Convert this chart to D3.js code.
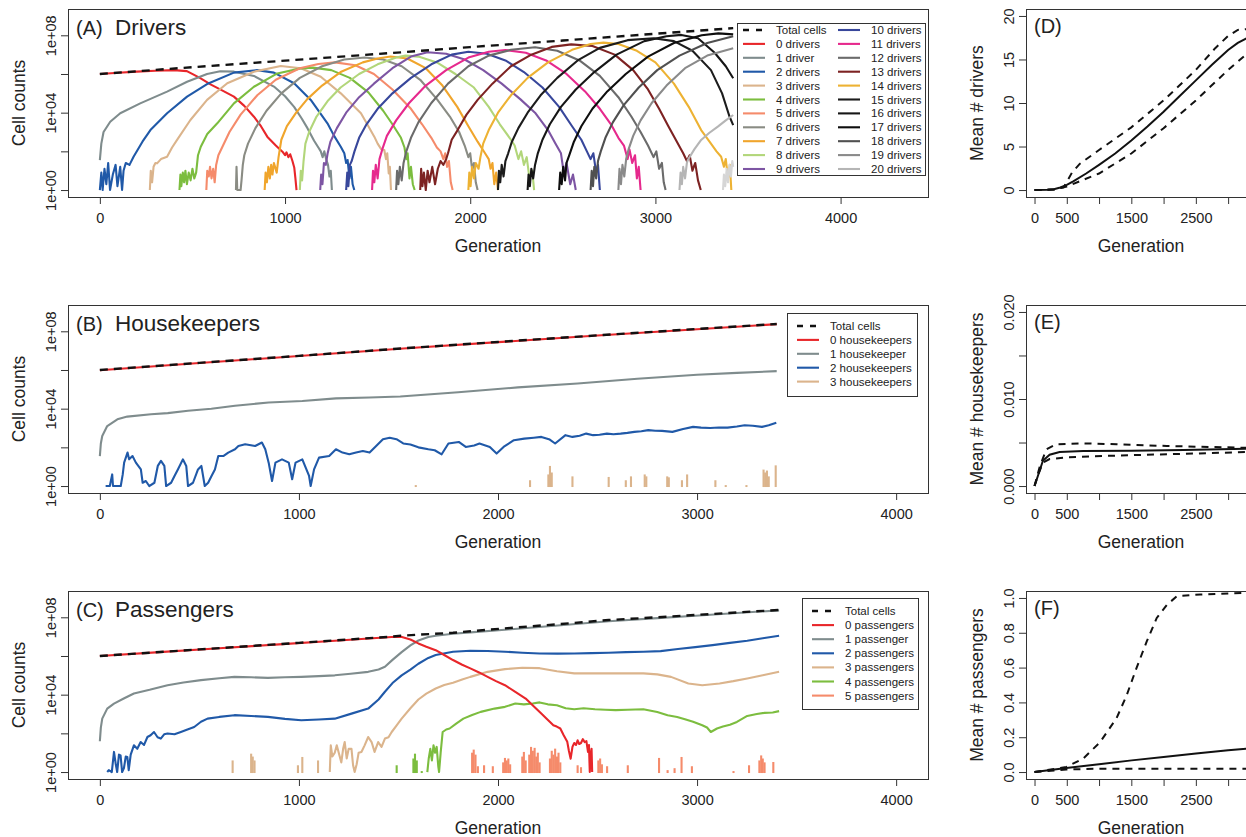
<!DOCTYPE html>
<html>
<head>
<meta charset="utf-8">
<script src="https://cdn.jsdelivr.net/npm/d3@7"></script>
<style>
body { margin: 0; background: #fff; }
svg { display: block; font-family: "Liberation Sans", Arial, Helvetica, sans-serif; }
</style>
</head>
<body>
<div id="chart"></div>
<script>
// ---- Data: [generation, log10(cell count)] ----

// (A) Drivers
var drvTotal = [[0,6.0],[500,6.35],[1000,6.69],[1626,7.12],[2000,7.39],[2500,7.73],[3000,8.08],[3420,8.37]];
var drv0 = [[0,6.0],[100,6.06],[200,6.12],[300,6.17],[400,6.2],[470,6.15],[540,5.8],[600,5.45],[660,5.15],[724,4.83],[780,4.35],[832,3.79],[870,3.3],[904,2.76],[950,2.3],[986,1.98],[1000,1.8],[1008,1.95],[1018,1.7],[1028,1.85],[1040,1.5],[1050,1.15],[1056,0.6],[1062,0]];
var drv1 = [[0,1.55],[8,2.4],[20,3.0],[56,3.53],[110,3.97],[218,4.48],[363,5.09],[471,5.6],[579,6.0],[650,6.14],[724,6.12],[832,5.9],[940,5.35],[1000,4.85],[1049,4.3],[1090,3.7],[1121,3.2],[1157,2.55],[1180,2.2],[1193,2.0],[1203,1.7],[1212,2.0],[1222,1.6],[1232,1.3],[1240,0.7],[1247,1.0],[1253,0]];
var drv2 = [[0,0],[8,0.9],[15,0],[25,1.1],[35,0.3],[45,1.4],[55,0],[70,0.8],[85,1.3],[95,0.2],[110,1.2],[120,0],[128,1.0],[140,1.4],[160,1.3],[182,1.72],[230,2.5],[273,3.1],[363,3.97],[471,4.83],[579,5.48],[724,6.07],[850,6.2],[940,6.07],[1049,5.52],[1139,4.66],[1229,3.45],[1265,2.8],[1301,2.24],[1320,1.9],[1330,1.4],[1338,1.55],[1348,0.6],[1356,1.2],[1365,0.3],[1374,0]];
var drv3 = [[270,0],[275,1.0],[282,0.4],[290,1.2],[300,1.4],[309,1.38],[330,1.6],[363,1.72],[390,2.2],[417,2.59],[489,3.62],[579,4.66],[688,5.52],[832,6.12],[977,6.41],[1085,6.3],[1193,5.86],[1301,5.0],[1410,3.97],[1450,3.3],[1482,2.76],[1500,2.4],[1520,2.1],[1536,2.07],[1545,1.6],[1552,1.9],[1560,0.86],[1566,1.2],[1572,0]];
var drv4 = [[430,0],[435,0.8],[440,0.2],[448,0.9],[455,0.4],[462,1.0],[470,0.3],[480,0.9],[490,0.5],[500,1.1],[510,0.6],[520,0.9],[530,1.8],[545,2.24],[580,2.9],[634,3.45],[724,4.48],[832,5.34],[958,6.03],[1085,6.29],[1150,6.33],[1250,6.2],[1350,5.8],[1450,5.05],[1530,4.1],[1580,3.4],[1626,2.7],[1645,2.2],[1655,1.6],[1662,1.9],[1672,0.6],[1680,1.2],[1690,0.3],[1700,0]];
var drv5 = [[575,0],[580,1.0],[588,0.7],[595,1.2],[603,0.6],[612,1.1],[620,0.4],[628,1.3],[640,1.8],[660,2.2],[700,3.0],[760,3.9],[850,4.9],[950,5.7],[1080,6.3],[1180,6.52],[1270,6.6],[1380,6.45],[1480,6.0],[1580,5.2],[1680,4.2],[1740,3.4],[1790,2.7],[1820,2.2],[1840,2.0],[1855,1.6],[1865,1.9],[1875,1.2],[1885,1.5],[1895,0.4],[1905,0]];
var drv6 = [[735,0],[738,1.2],[742,0],[760,0],[765,0.5],[772,1.3],[780,1.8],[800,2.4],[840,3.2],[900,4.1],[980,5.0],[1080,5.8],[1200,6.4],[1320,6.75],[1430,6.85],[1530,6.75],[1630,6.4],[1730,5.7],[1820,4.7],[1890,3.8],[1940,3.0],[1970,2.3],[1990,1.7],[2000,1.9],[2010,1.1],[2020,1.4],[2030,0.4],[2040,0]];
var drv7 = [[890,0],[895,0.9],[902,0.4],[910,1.2],[918,0.6],[925,1.3],[932,0.8],[940,1.4],[955,0.9],[965,1.7],[980,2.6],[1010,3.3],[1060,4.0],[1120,4.7],[1200,5.4],[1300,6.1],[1420,6.6],[1500,6.8],[1570,6.9],[1660,6.8],[1760,6.3],[1850,5.4],[1930,4.3],[1990,3.3],[2040,2.5],[2080,1.9],[2100,1.6],[2110,1.1],[2120,1.4],[2130,0.3],[2140,0.9],[2150,0]];
var drv8 = [[1080,0],[1085,1.0],[1092,0.5],[1100,1.5],[1110,2.4],[1130,3.0],[1170,3.8],[1230,4.6],[1300,5.3],[1400,6.0],[1500,6.5],[1600,6.85],[1650,6.95],[1720,6.9],[1820,6.6],[1920,6.0],[2020,5.3],[2100,4.3],[2160,3.4],[2220,2.6],[2240,2.3],[2260,1.6],[2275,2.0],[2290,1.3],[2305,1.7],[2320,0.6],[2335,1.0],[2345,0]];
var drv9 = [[1190,0],[1195,0.8],[1202,0.3],[1210,1.4],[1220,1.3],[1230,1.9],[1245,2.5],[1280,3.2],[1330,4.0],[1400,4.8],[1480,5.5],[1580,6.3],[1680,6.9],[1770,7.12],[1870,7.05],[1970,6.75],[2070,6.2],[2170,5.5],[2270,4.7],[2350,4.0],[2420,3.1],[2460,2.4],[2490,1.9],[2505,0.9],[2520,1.4],[2540,0.3],[2555,0.8],[2570,0]];
var drv10 = [[1330,0],[1336,0.9],[1342,0.2],[1350,1.3],[1360,1.5],[1375,2.0],[1400,2.7],[1440,3.4],[1500,4.2],[1580,5.0],[1680,5.8],[1790,6.5],[1900,7.0],[1990,7.15],[2090,7.05],[2190,6.7],[2290,6.1],[2390,5.3],[2480,4.3],[2550,3.3],[2600,2.6],[2630,2.0],[2650,1.6],[2665,1.9],[2680,0.9],[2690,1.3],[2700,0]];
var drv11 = [[1470,0],[1475,1.0],[1482,0.4],[1490,1.3],[1500,0.6],[1510,1.6],[1525,2.1],[1550,2.8],[1600,3.6],[1670,4.5],[1760,5.4],[1870,6.2],[1990,6.85],[2100,7.15],[2190,7.24],[2300,7.1],[2410,6.7],[2520,6.0],[2620,5.1],[2700,4.2],[2760,3.4],[2800,2.7],[2830,2.3],[2850,1.6],[2860,2.1],[2875,1.4],[2890,1.8],[2900,0.6],[2910,1.2],[2920,0]];
var drv12 = [[1600,0],[1605,1.0],[1612,0.3],[1620,1.2],[1630,0.5],[1640,1.4],[1655,2.0],[1680,2.7],[1720,3.5],[1790,4.5],[1880,5.5],[1990,6.4],[2100,6.95],[2220,7.25],[2350,7.38],[2470,7.2],[2590,6.7],[2700,5.9],[2800,4.8],[2870,3.8],[2920,3.0],[2960,2.3],[2990,1.7],[3005,2.0],[3020,1.1],[3035,1.4],[3045,0.4],[3055,0]];
var drv13 = [[1730,0],[1735,1.1],[1742,0.2],[1750,0.9],[1760,0],[1770,1.0],[1780,0.4],[1795,1.2],[1810,0.3],[1825,1.1],[1840,1.5],[1855,1.3],[1870,1.6],[1880,1.9],[1900,2.6],[1932,3.1],[1980,3.9],[2040,4.66],[2120,5.5],[2220,6.4],[2330,7.0],[2440,7.4],[2545,7.53],[2660,7.45],[2780,7.0],[2880,6.2],[2960,5.2],[3020,4.2],[3070,3.3],[3110,2.6],[3150,1.9],[3170,1.5],[3185,1.8],[3200,1.0],[3215,1.4],[3230,0.5],[3245,0]];
var drv14 = [[1990,0],[1995,0.9],[2002,0.2],[2010,1.2],[2020,0.6],[2030,1.4],[2045,1.1],[2055,1.7],[2070,2.4],[2100,3.1],[2150,4.0],[2220,4.9],[2310,5.8],[2420,6.6],[2550,7.25],[2650,7.55],[2720,7.62],[2800,7.55],[2900,7.2],[3000,6.6],[3100,5.5],[3180,4.3],[3247,3.1],[3300,2.4],[3330,2.0],[3355,1.72],[3370,1.2],[3380,1.6],[3392,0.6],[3402,1.3],[3410,0]];
var drv15 = [[2150,0],[2155,1.0],[2162,0.4],[2170,1.3],[2180,0.7],[2190,1.5],[2205,1.9],[2225,2.5],[2260,3.2],[2310,4.0],[2380,4.9],[2470,5.8],[2580,6.7],[2700,7.35],[2850,7.75],[2990,7.85],[3100,7.7],[3200,7.2],[3300,6.2],[3360,5.0],[3400,3.8],[3420,3.36]];
var drv16 = [[2310,0],[2315,0.8],[2322,0.2],[2330,1.1],[2340,0.6],[2350,1.3],[2365,1.9],[2390,2.6],[2430,3.4],[2490,4.3],[2570,5.2],[2670,6.1],[2790,7.0],[2940,7.7],[3060,7.95],[3140,8.02],[3230,7.85],[3320,7.1],[3380,6.4],[3420,5.78]];
var drv17 = [[2480,0],[2486,0.9],[2494,0.3],[2502,1.2],[2512,0.5],[2520,1.4],[2535,1.8],[2560,2.5],[2600,3.3],[2660,4.2],[2740,5.1],[2840,6.0],[2960,6.9],[3100,7.6],[3250,8.0],[3340,8.1],[3420,8.05]];
var drv18 = [[2650,0],[2656,1.0],[2663,0.2],[2670,1.2],[2680,0.6],[2690,1.5],[2705,2.0],[2730,2.7],[2770,3.5],[2830,4.4],[2910,5.3],[3010,6.2],[3130,6.95],[3280,7.6],[3420,7.95]];
var drv19 = [[2800,0],[2806,1.1],[2814,0.3],[2822,1.3],[2832,0.7],[2842,1.6],[2855,2.1],[2880,2.8],[2920,3.6],[2980,4.5],[3060,5.4],[3160,6.3],[3280,6.95],[3420,7.33]];
var drv20 = [[3130,0],[3136,0.9],[3143,0.3],[3150,1.2],[3160,0.6],[3170,1.4],[3175,1.55],[3210,2.1],[3247,2.59],[3290,2.95],[3337,3.28],[3380,3.6],[3420,3.88]];
var drv21 = [[3365,0],[3370,0.8],[3377,0.2],[3385,1.1],[3392,0.4],[3400,1.3],[3408,0.7],[3415,1.5],[3420,1.2]];

var driverSeries = [drv0, drv1, drv2, drv3, drv4, drv5, drv6, drv7, drv8, drv9, drv10,
  drv11, drv12, drv13, drv14, drv15, drv16, drv17, drv18, drv19, drv20, drv21];
var driverNames = ["0 drivers", "1 driver", "2 drivers", "3 drivers", "4 drivers", "5 drivers",
  "6 drivers", "7 drivers", "8 drivers", "9 drivers", "10 drivers", "11 drivers", "12 drivers",
  "13 drivers", "14 drivers", "15 drivers", "16 drivers", "17 drivers", "18 drivers",
  "19 drivers", "20 drivers"];

// (B) Housekeepers
var hkTotal = [[0,6.0],[500,6.37],[1000,6.73],[1524,7.12],[2000,7.45],[2500,7.79],[3000,8.12],[3400,8.38]];
var hk0 = [[0,5.99],[500,6.36],[1000,6.72],[1524,7.11],[2000,7.44],[2500,7.78],[3000,8.11],[3400,8.37]];
var hk1 = [[0,1.55],[5,2.2],[12,2.59],[37,3.1],[88,3.45],[138,3.59],[257,3.71],[341,3.77],[443,3.89],[560,4.0],[679,4.15],[848,4.32],[1017,4.4],[1186,4.53],[1355,4.58],[1509,4.63],[1800,4.85],[2100,5.1],[2400,5.3],[2700,5.55],[3000,5.75],[3200,5.85],[3400,5.94]];
var hk2 = [[29,0],[50,0],[62,0.6],[66,0],[105,0],[115,0.6],[122,1.21],[139,1.73],[147,1.38],[164,1.55],[181,1.21],[206,0.86],[215,0.17],[231,0.26],[248,0],[274,0.17],[291,1.04],[307,1.3],[324,1.04],[333,0],[358,0.17],[375,0.52],[392,0.86],[417,1.38],[434,1.04],[443,0],[468,0.17],[493,0.86],[510,1.04],[527,0],[544,0.17],[561,0.52],[578,0.86],[595,1.55],[620,1.55],[645,1.73],[679,1.9],[696,2.07],[730,2.16],[780,2.07],[814,2.25],[831,1.9],[848,1.21],[865,0.26],[882,1.21],[915,1.38],[949,1.21],[966,0.35],[983,1.21],[1017,1.38],[1051,0.52],[1059,0],[1076,0.86],[1101,1.47],[1152,1.55],[1186,1.9],[1219,1.73],[1253,1.64],[1287,1.73],[1321,1.81],[1355,1.73],[1388,2.07],[1422,2.42],[1456,2.5],[1490,2.42],[1524,2.2],[1560,2.15],[1600,2.0],[1650,1.9],[1682,1.85],[1717,1.64],[1751,2.2],[1803,2.28],[1838,2.02],[1880,2.1],[1907,2.2],[1959,2.02],[1993,1.68],[2028,2.02],[2080,2.37],[2132,2.45],[2180,2.5],[2218,2.54],[2260,2.4],[2287,2.2],[2339,2.63],[2374,2.54],[2410,2.6],[2443,2.71],[2478,2.63],[2510,2.65],[2547,2.71],[2580,2.68],[2616,2.71],[2650,2.75],[2685,2.8],[2720,2.83],[2755,2.89],[2790,2.86],[2824,2.85],[2876,2.8],[2930,2.95],[2980,3.06],[3020,3.02],[3066,3.0],[3110,3.03],[3153,3.02],[3200,3.08],[3239,3.14],[3280,3.12],[3326,3.06],[3360,3.14],[3398,3.27]];
var hk3Spikes = [[1587,0.05],[2161,0.3],[2253,0.6],[2261,1.04],[2270,0.7],[2374,0.5],[2556,0.47],[2642,0.3],[2668,0.5],[2737,0.6],[2745,0.5],[2850,0.5],[2858,0.45],[2924,0.3],[2950,0.6],[3092,0.3],[3144,0.05],[3248,0.05],[3334,0.85],[3342,0.7],[3351,0.8],[3360,0.5],[3395,1.07]];
var hkNames = ["0 housekeepers", "1 housekeeper", "2 housekeepers", "3 housekeepers"];

// (C) Passengers
var psTotal = [[0,6.0],[500,6.34],[1000,6.68],[1466,7.0],[1513,7.05],[1774,7.2],[2035,7.43],[2300,7.64],[2556,7.86],[2800,8.0],[2991,8.12],[3200,8.25],[3412,8.38]];
var ps0 = [[0,6.0],[300,6.2],[600,6.4],[900,6.6],[1200,6.8],[1466,6.98],[1513,7.0],[1560,6.85],[1600,6.65],[1640,6.48],[1687,6.3],[1730,6.05],[1774,5.79],[1820,5.55],[1861,5.36],[1905,5.15],[1948,4.92],[1990,4.7],[2035,4.49],[2087,4.15],[2139,3.8],[2191,3.28],[2220,3.0],[2243,2.77],[2260,2.6],[2278,2.42],[2295,2.35],[2313,2.25],[2330,1.9],[2348,1.56],[2356,1.1],[2365,0.69],[2374,1.3],[2383,1.5],[2392,1.4],[2400,1.64],[2408,1.45],[2417,1.5],[2426,1.7],[2435,1.55],[2444,1.6],[2452,1.04],[2457,1.4],[2461,0],[2466,0.9],[2470,1.2],[2473,0]];
var ps1 = [[0,1.59],[5,2.3],[12,2.76],[37,3.28],[71,3.54],[120,3.8],[171,4.06],[250,4.25],[340,4.49],[420,4.63],[508,4.75],[600,4.85],[676,4.92],[760,4.9],[844,4.87],[930,4.9],[1012,4.92],[1100,4.96],[1180,5.0],[1260,5.08],[1348,5.18],[1400,5.3],[1432,5.44],[1470,5.8],[1516,6.2],[1560,6.55],[1600,6.8],[1650,6.98],[1687,7.05],[1774,7.15],[1861,7.22],[2035,7.36],[2300,7.58],[2556,7.8],[2800,7.96],[2991,8.08],[3200,8.22],[3412,8.36]];
var ps2 = [[37,0],[45,0.1],[60,0],[71,1.04],[80,0.4],[87,0],[96,0.9],[104,0.86],[112,0],[121,0.2],[130,0.8],[138,0.78],[145,0.1],[155,0.9],[171,1.38],[188,1.2],[205,1.55],[222,1.4],[239,1.81],[255,1.9],[272,2.07],[290,1.8],[306,1.73],[323,1.95],[340,1.99],[375,1.95],[407,2.07],[440,2.2],[474,2.33],[508,2.6],[541,2.76],[600,2.85],[676,2.94],[760,2.9],[844,2.85],[930,2.75],[1012,2.68],[1100,2.72],[1180,2.76],[1264,3.02],[1348,3.28],[1400,3.75],[1432,4.15],[1470,4.6],[1516,5.0],[1560,5.3],[1600,5.6],[1650,5.9],[1687,6.05],[1774,6.22],[1861,6.27],[1948,6.26],[2035,6.22],[2122,6.17],[2209,6.13],[2300,6.12],[2383,6.13],[2470,6.15],[2556,6.17],[2643,6.2],[2730,6.22],[2817,6.25],[2904,6.36],[2991,6.46],[3078,6.56],[3165,6.68],[3252,6.79],[3330,6.92],[3412,7.05]];
var ps3Spikes = [[667,0.6],[760,0.95],[768,0.8],[777,0.6],[995,0.35],[1017,0.78],[1096,0.6]];
var ps3 = [[1155,0],[1160,1.38],[1168,0.8],[1180,1.0],[1190,1.38],[1200,1.0],[1213,0.5],[1222,1.2],[1230,1.55],[1240,0.7],[1250,1.2],[1264,1.2],[1272,0.35],[1280,0],[1290,0.4],[1300,1.0],[1314,1.04],[1330,1.38],[1348,1.81],[1365,1.55],[1380,1.04],[1398,1.55],[1415,1.3],[1432,1.73],[1450,1.8],[1466,2.07],[1490,2.4],[1516,2.76],[1560,3.3],[1600,3.75],[1640,4.05],[1687,4.32],[1730,4.5],[1774,4.62],[1820,4.78],[1861,4.92],[1948,5.18],[2035,5.32],[2122,5.39],[2209,5.37],[2296,5.21],[2383,5.1],[2470,5.1],[2556,5.1],[2650,5.1],[2730,5.1],[2800,5.05],[2869,4.92],[2956,4.58],[3026,4.49],[3113,4.58],[3182,4.7],[3252,4.84],[3330,5.0],[3412,5.18]];
var ps4Spikes = [[1491,0.35],[1575,0.7],[1583,0.95],[1592,0.6],[1617,0.05]];
var ps4 = [[1645,0],[1652,0.7],[1660,1.2],[1668,0.6],[1676,1.38],[1684,1.0],[1692,1.3],[1700,0.3],[1704,0],[1712,1.0],[1722,2.07],[1740,2.2],[1757,2.25],[1790,2.5],[1826,2.76],[1870,2.95],[1913,3.11],[1983,3.28],[2035,3.37],[2087,3.54],[2130,3.5],[2174,3.54],[2209,3.6],[2250,3.5],[2296,3.45],[2340,3.3],[2383,3.25],[2430,3.3],[2487,3.25],[2540,3.22],[2591,3.2],[2650,3.22],[2730,3.25],[2800,3.1],[2852,2.94],[2900,2.85],[2939,2.73],[2980,2.6],[3026,2.42],[3050,2.3],[3069,2.07],[3100,2.25],[3130,2.35],[3165,2.45],[3200,2.59],[3252,2.9],[3300,3.0],[3339,3.06],[3380,3.08],[3412,3.15]];
var ps5Spikes = [[1870,1.0],[1878,1.16],[1887,0.9],[1899,0.3],[1930,0.35],[1974,0.3],[2026,0.5],[2035,0.73],[2044,0.6],[2052,0.7],[2061,0.4],[2122,0.8],[2130,1.04],[2139,0.6],[2157,0.9],[2166,1.3],[2175,1.1],[2184,1.25],[2192,0.8],[2200,1.0],[2209,0.5],[2261,0.7],[2270,1.1],[2278,0.9],[2287,1.21],[2296,0.8],[2304,1.0],[2313,0.5],[2400,0.35],[2417,0.25],[2504,0.6],[2513,0.7],[2522,0.4],[2548,0.3],[2652,0.35],[2809,0.73],[2852,0.1],[2887,0.2],[2922,0.78],[2974,0.3],[3183,0.05],[3261,0.35],[3313,0.6],[3322,0.86],[3330,0.7],[3339,0.5],[3383,0.52]];
var psNames = ["0 passengers", "1 passenger", "2 passengers", "3 passengers", "4 passengers", "5 passengers"];

// (D)-(F) means: [generation, value]
var dMean = [[0,0],[200,0.02],[300,0.1],[400,0.3],[500,0.6],[600,1.0],[800,1.9],[1000,2.9],[1250,4.2],[1500,5.7],[1750,7.3],[2000,9.0],[2250,10.8],[2500,12.6],[2750,14.4],[3000,16.1],[3150,16.9],[3300,17.5],[3420,17.9]];
var dUpper = [[0,0],[300,0.05],[450,0.3],[520,1.2],[580,2.0],[700,3.0],[1000,4.6],[1500,7.2],[2000,10.3],[2500,13.8],[2800,16.3],[3000,17.7],[3150,18.4],[3300,18.5],[3420,18.5]];
var dLower = [[0,0],[300,0.05],[500,0.4],[700,1.0],[1000,1.9],[1500,4.2],[2000,7.1],[2500,10.3],[3000,13.8],[3300,15.7],[3420,16.3]];
var eMean = [[0,0],[52,0.00115],[130,0.0029],[234,0.0036],[389,0.0039],[753,0.00402],[1500,0.00405],[2310,0.00414],[3270,0.00429],[3420,0.0043]];
var eUpper = [[0,0],[80,0.0022],[182,0.0042],[337,0.0048],[753,0.0049],[1272,0.0048],[2050,0.0046],[3270,0.0044],[3420,0.0044]];
var eLower = [[0,0],[52,0.0012],[130,0.0027],[234,0.0031],[493,0.0033],[1272,0.0035],[2310,0.0037],[3270,0.0039],[3420,0.0039]];
var fMean = [[0,0],[493,0.023],[1000,0.045],[1505,0.067],[2000,0.087],[2502,0.106],[3000,0.125],[3420,0.138]];
var fUpper = [[0,0],[493,0.029],[753,0.077],[1012,0.17],[1272,0.31],[1427,0.44],[1583,0.6],[1739,0.75],[1894,0.885],[2050,0.96],[2206,1.01],[2569,1.02],[3270,1.03],[3420,1.03]];
var fLower = [[0,0],[493,0.015],[1012,0.019],[2000,0.019],[3420,0.019]];

// tick values
var genTicks = [0, 1000, 2000, 3000, 4000];
var countExp = [0, 2, 4, 6, 8];
var countExpLabelled = [0, 4, 8];
var genTicksRight = [0, 500, 1000, 1500, 2000, 2500, 3000];
var genLabelsRight = [0, 500, 1500, 2500];
var dTicks = [0, 5, 10, 15, 20];
var eTicks = [0, 0.005, 0.01, 0.015, 0.02];
var eLabelled = [0, 0.01, 0.02];
var fTicks = [0, 0.2, 0.4, 0.6, 0.8, 1.0];

// ---- Colours ----
var driverColors = ["#e8262a", "#7f8c8d", "#2059a8", "#dbb48c", "#7cbd3f", "#f58b6b", "#8a8c84",
  "#f0a52c", "#b2d67a", "#7d55a3", "#38479b", "#e6298d", "#6b6b6b", "#7d2222", "#edb233",
  "#1c1c1c", "#161616", "#0e0e0e", "#505050", "#8a8a8a", "#b5b5b5", "#d6d6d6"];
var mutColors = ["#e8262a", "#7f8c8d", "#2059a8", "#dbb48c", "#7cbd3f", "#f58b6b"];

// ---- Layout ----
var W = 1246, H = 837;
var leftX = [68, 928];
var rightX = [1026, 1256];
var rows = [9, 305, 591];
var boxH = 188;
var ink = "#222";

var svg = d3.select("#chart").append("svg")
  .attr("width", W)
  .attr("height", H);

function expFormat(v) {
  var e = Math.round(Math.log10(v));
  return "1e+" + d3.format("02d")(e);
}

function styleAxis(g) {
  g.select(".domain").remove();
  g.attr("font-family", null).attr("font-size", 14.5);
  g.selectAll("line").attr("stroke", "#333");
  g.selectAll("text").attr("fill", ink);
}

function rotateYLabels(g) {
  g.selectAll("text")
    .attr("x", 0)
    .attr("y", -12)
    .attr("dy", 0)
    .attr("text-anchor", "middle")
    .attr("transform", "rotate(-90)");
}

function frame(x0, x1, top, xTitleX) {
  svg.append("rect")
    .attr("x", x0 + 0.5).attr("y", top + 0.5)
    .attr("width", x1 - x0).attr("height", boxH)
    .attr("fill", "none").attr("stroke", "#333").attr("stroke-width", 1);
  svg.append("text")
    .attr("x", xTitleX).attr("y", top + boxH + 55)
    .attr("text-anchor", "middle")
    .attr("font-size", 17.5).attr("fill", ink)
    .text("Generation");
}

function yTitle(xBase, top, label) {
  svg.append("text")
    .attr("transform", `translate(${xBase},${top + boxH / 2}) rotate(-90)`)
    .attr("text-anchor", "middle")
    .attr("font-size", 17.5).attr("fill", ink)
    .text(label);
}

// Left log-scale panel
function leftPanel(top, xDomain, letter, name) {
  var bottom = top + boxH;
  var x = d3.scaleLinear().domain(xDomain).range(leftX);
  var y = d3.scaleLog().domain([Math.pow(10, -0.36), Math.pow(10, 9.36)]).range([bottom, top]);

  svg.append("g")
    .attr("transform", `translate(0,${bottom})`)
    .call(d3.axisBottom(x).tickValues(genTicks).tickFormat(d3.format("d"))
      .tickSize(7).tickPadding(9).tickSizeOuter(0))
    .call(styleAxis);

  svg.append("g")
    .attr("transform", `translate(${leftX[0]},0)`)
    .call(d3.axisLeft(y)
      .tickValues(countExp.map(e => Math.pow(10, e)))
      .tickFormat(d => countExpLabelled.indexOf(Math.round(Math.log10(d))) >= 0 ? expFormat(d) : "")
      .tickSize(7).tickSizeOuter(0))
    .call(styleAxis)
    .call(rotateYLabels);

  frame(leftX[0], leftX[1], top, (leftX[0] + leftX[1]) / 2);
  yTitle(25, top, "Cell counts");

  svg.append("text").attr("x", 76).attr("y", top + 26)
    .attr("font-size", 20).attr("fill", ink).text("(" + letter + ")");
  svg.append("text").attr("x", 115).attr("y", top + 26)
    .attr("font-size", 22.5).attr("fill", ink).text(name);

  var g = svg.append("g");
  var line = d3.line().x(d => x(d[0])).y(d => y(Math.pow(10, d[1])));
  return { g: g, x: x, y: y, line: line };
}

// Right linear panel
function rightPanel(top, yDomain, ticks, labelled, fmt, letter, label, upper, lower, mean) {
  var bottom = top + boxH;
  var x = d3.scaleLinear().domain([-132, 3432]).range(rightX);
  var y = d3.scaleLinear().domain(yDomain).range([bottom, top]);

  svg.append("g")
    .attr("transform", `translate(0,${bottom})`)
    .call(d3.axisBottom(x).tickValues(genTicksRight)
      .tickFormat(d => genLabelsRight.indexOf(d) >= 0 ? String(d) : "")
      .tickSize(7).tickPadding(9).tickSizeOuter(0))
    .call(styleAxis);

  svg.append("g")
    .attr("transform", `translate(${rightX[0]},0)`)
    .call(d3.axisLeft(y).tickValues(ticks)
      .tickFormat(d => labelled.some(v => Math.abs(v - d) < 1e-9) ? fmt(d) : "")
      .tickSize(7).tickSizeOuter(0))
    .call(styleAxis)
    .call(rotateYLabels);

  frame(rightX[0], rightX[1], top, (rightX[0] + rightX[1]) / 2);
  yTitle(983, top, label);

  svg.append("text").attr("x", 1034).attr("y", top + 24)
    .attr("font-size", 20).attr("fill", ink).text("(" + letter + ")");

  var line = d3.line().x(d => x(d[0])).y(d => y(d[1]));
  var g = svg.append("g");
  [[upper, "7,6"], [lower, "7,6"], [mean, null]].forEach(function (s) {
    g.append("path")
      .datum(s[0])
      .attr("d", line)
      .attr("fill", "none")
      .attr("stroke", "#111")
      .attr("stroke-width", 2)
      .attr("stroke-dasharray", s[1]);
  });
}

function drawSeries(p, data, color, dashed) {
  p.g.append("path")
    .datum(data)
    .attr("d", p.line)
    .attr("fill", "none")
    .attr("stroke", color)
    .attr("stroke-width", dashed ? 2.4 : 2.1)
    .attr("stroke-linejoin", "round")
    .attr("stroke-dasharray", dashed ? "8,6" : null);
}

function drawSpikes(p, data, color) {
  p.g.selectAll(null)
    .data(data)
    .join("line")
    .attr("x1", d => p.x(d[0]))
    .attr("x2", d => p.x(d[0]))
    .attr("y1", p.y(1) + 1)
    .attr("y2", d => p.y(Math.pow(10, d[1])))
    .attr("stroke", color)
    .attr("stroke-width", 2.1);
}

// Legend box with one or more columns of entries
function legend(box, cols, rowY0, rowStep) {
  svg.append("rect")
    .attr("x", box[0] + 0.5).attr("y", box[1] + 0.5)
    .attr("width", box[2]).attr("height", box[3])
    .attr("fill", "#fff").attr("stroke", "#333").attr("stroke-width", 1);
  cols.forEach(function (col) {
    col.entries.forEach(function (e, i) {
      var yy = rowY0 + i * rowStep;
      svg.append("line")
        .attr("x1", col.x).attr("x2", col.x + 22)
        .attr("y1", yy).attr("y2", yy)
        .attr("stroke", e.color).attr("stroke-width", e.dashed ? 2.4 : 2.1)
        .attr("stroke-dasharray", e.dashed ? "6,7" : null);
      svg.append("text")
        .attr("x", col.x + 33).attr("y", yy).attr("dy", "0.35em")
        .attr("font-size", 11.5).attr("fill", ink)
        .text(e.label);
    });
  });
}

// ---- Panel A ----
var pA = leftPanel(rows[0], [-172, 4472], "A", "Drivers");
driverSeries.forEach(function (s, i) { drawSeries(pA, s, driverColors[i], false); });
drawSeries(pA, drvTotal, "#111", true);

var legA = [{ label: "Total cells", color: "#111", dashed: true }];
driverNames.forEach(function (n, i) { legA.push({ label: n, color: driverColors[i] }); });
legend([737, 23, 188, 152], [
  { x: 743, entries: legA.slice(0, 11) },
  { x: 838, entries: legA.slice(11) }
], 30, 13.9);

// ---- Panel B ----
var pB = leftPanel(rows[1], [-160, 4160], "B", "Housekeepers");
drawSeries(pB, hk0, mutColors[0], false);
drawSeries(pB, hk1, mutColors[1], false);
drawSeries(pB, hk2, mutColors[2], false);
drawSpikes(pB, hk3Spikes, mutColors[3]);
drawSeries(pB, hkTotal, "#111", true);

var legB = [{ label: "Total cells", color: "#111", dashed: true }];
hkNames.forEach(function (n, i) { legB.push({ label: n, color: mutColors[i] }); });
legend([787, 313, 130, 83], [{ x: 797, entries: legB }], 326, 13.9);

// ---- Panel C ----
var pC = leftPanel(rows[2], [-160, 4160], "C", "Passengers");
drawSeries(pC, ps1, mutColors[1], false);
drawSeries(pC, ps2, mutColors[2], false);
drawSpikes(pC, ps3Spikes, mutColors[3]);
drawSeries(pC, ps3, mutColors[3], false);
drawSpikes(pC, ps4Spikes, mutColors[4]);
drawSeries(pC, ps4, mutColors[4], false);
drawSpikes(pC, ps5Spikes, mutColors[5]);
drawSeries(pC, ps0, mutColors[0], false);
drawSeries(pC, psTotal, "#111", true);

var legC = [{ label: "Total cells", color: "#111", dashed: true }];
psNames.forEach(function (n, i) { legC.push({ label: n, color: mutColors[i] }); });
legend([802, 598, 116, 111], [{ x: 812, entries: legC }], 611, 14.1);

// ---- Panels D-F ----
rightPanel(rows[0], [-0.8, 20.8], dTicks, dTicks, d => String(d), "D", "Mean # drivers", dUpper, dLower, dMean);
rightPanel(rows[1], [-0.0008, 0.0208], eTicks, eLabelled, d3.format(".3f"), "E", "Mean # housekeepers", eUpper, eLower, eMean);
rightPanel(rows[2], [-0.04, 1.04], fTicks, fTicks, d3.format(".1f"), "F", "Mean # passengers", fUpper, fLower, fMean);
</script>
</body>
</html>
